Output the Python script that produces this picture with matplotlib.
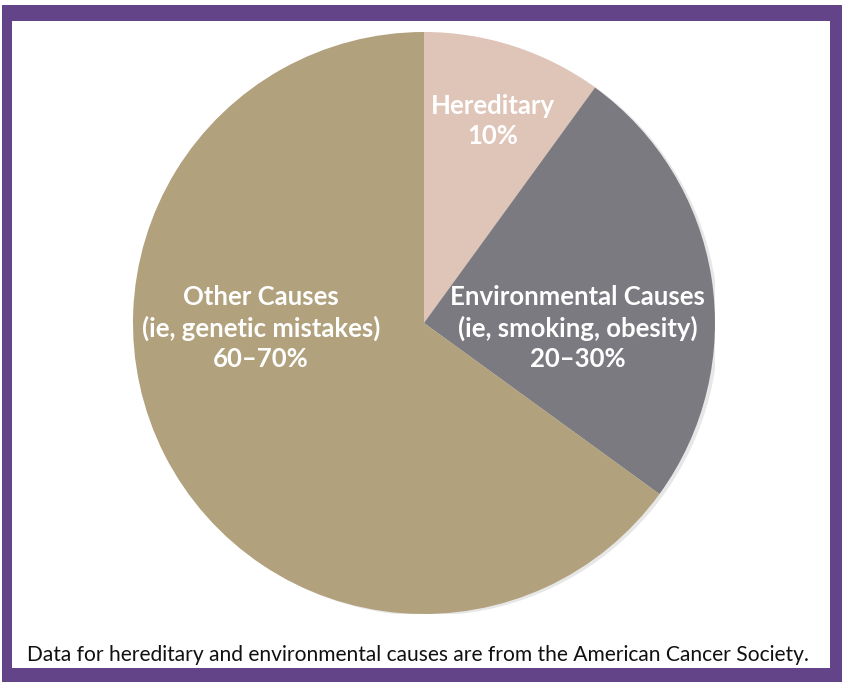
import matplotlib
matplotlib.use("Agg")
import matplotlib.pyplot as plt
from matplotlib.patches import Rectangle, Circle

plt.rcParams['font.family'] = ['Lato', 'DejaVu Sans']

# slices, clockwise from the top
labels = ["Hereditary\n10%",
          "Environmental Causes\n(ie, smoking, obesity)\n20\u201330%",
          "Other Causes\n(ie, genetic mistakes)\n60\u201370%"]
shares = [10, 25, 65]
colors = ['#dfc4b8', '#7b7a80', '#b1a17c']
label_pos = [(0.237, 0.695), (0.527, -0.017), (-0.56, -0.017)]

footnote = "Data for hereditary and environmental causes are from the American Cancer Society."

W, H = 842, 682
fig = plt.figure(figsize=(W / 100, H / 100), dpi=100)
fig.patch.set_facecolor('white')

# purple frame
fig.patches.append(Rectangle((2 / W, 0), 1 - 2 / W, 1 - 5 / H, transform=fig.transFigure,
                             facecolor='#634489', edgecolor='none', zorder=-10))
fig.patches.append(Rectangle((12 / W, 14 / H), (830 - 12) / W, (661 - 14) / H,
                             transform=fig.transFigure, facecolor='white',
                             edgecolor='none', zorder=-9))

cx, cy, r = 424, 323, 291
ax = fig.add_axes([(cx - r) / W, (H - cy - r) / H, 2 * r / W, 2 * r / H])
ax.patch.set_visible(False)

# faint shadow on the right edge
ax.add_patch(Circle((0.012, -0.006), 1.0, facecolor='#d8d8d8', edgecolor='none',
                    alpha=0.6, zorder=0))

ax.pie(shares, colors=colors, startangle=90, counterclock=False, radius=1,
       wedgeprops=dict(linewidth=0))
ax.set_xlim(-1, 1)
ax.set_ylim(-1, 1)
ax.axis('off')

for lab, (x, y) in zip(labels, label_pos):
    ax.text(x, y, lab, ha='center', va='center', color='white', fontsize=18.5,
            fontweight='bold', linespacing=1.3)

fig.text(418 / W, 1 - 655 / H, footnote, ha='center', va='center',
         color='#111111', fontsize=15.15)

fig.savefig('out.png', dpi=100)
